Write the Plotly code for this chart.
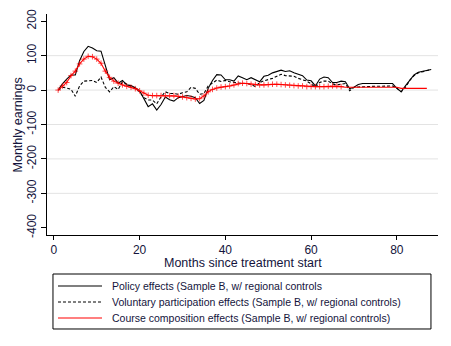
import plotly.graph_objects as go

# ------------------------
# Data
# ------------------------

months = list(range(1, 89))

policy = [
    0, 18, 32, 44, 44, 85, 112, 127, 122, 114,
    113, 72, 30, 36, 20, 28, 15, 13, 7, -2,
    -25, -48, -40, -58, -42, -20, -28, -32, -22, -19,
    -16, -18, -22, -39, -30, 5, 28, 45, 44, 30,
    30, 26, 41, 36, 30, 36, 30, 24, 40, 43,
    50, 55, 58, 54, 56, 50, 47, 42, 29, 27,
    12, 32, 38, 36, 22, 22, 26, 24, 4, 8,
    16, 19, 19, 19, 19, 19, 19, 19, 19, 5,
    -5, 12, 28, 44, 52, 55, 57, 60,
]

voluntary = [
    0, 8, 6, 2, -18, 12, 26, 28, 28, 22,
    38, 8, -5, 10, 2, 24, 18, 12, 4, -5,
    -22, -29, -29, -40, -20, -5, -10, -10, -12, -8,
    -5, 8, 5, -12, -10, 12, 20, 29, 25, 28,
    24, 22, 19, 19, 19, 16, 10, 22, 27, 30,
    34, 40, 46, 42, 41, 40, 34, 29, 26, 18,
    8, 22, 26, 26, 18, 15, 18, 19, -2, 8,
    9, 10, 10, 10, 11, 11, 12, 12, 12, 6,
    -5, 8, 28, 42, 50, 53, 56, 60,
]

composition = [
    0, 12, 22, 42, 55, 76, 90, 98, 97, 90,
    78, 55, 37, 26, 20, 15, 11, 8, 4, -2,
    -9, -15, -16, -16, -16, -16, -16, -16, -18, -20,
    -22, -24, -26, -25, -17, -5, 2, 6, 9, 10,
    12, 15, 19, 20, 19, 17, 16, 15, 15, 16,
    17, 17, 16, 15, 14, 13, 12, 12, 10, 10,
    10, 10, 10, 11, 12, 12, 10, 8, 8, 8,
    10, 10, 10, 10, 10, 10, 10, 10, 10, 8,
    5, 5, 5, 5, 5, 5, 5,
]

y_ticks = [-400, -300, -200, -100, 0, 100, 200]
x_ticks = [0, 20, 40, 60, 80]

names = [
    "Policy effects (Sample B, w/ regional controls",
    "Voluntary participation effects (Sample B, w/ regional controls)",
    "Course composition effects (Sample B, w/ regional controls)",
]

# ------------------------
# Figure
# ------------------------

font = "Liberation Sans, Arial, sans-serif"
text_col = "#14143c"
red = "#ff0000"

styles = [
    dict(color="black", width=1.1),
    dict(color="black", width=1.1, dash="3px,2px"),
    dict(color=red, width=1.1),
]

fig = go.Figure()

fig.add_trace(go.Scatter(x=months, y=policy, mode="lines", line=styles[0]))
fig.add_trace(go.Scatter(x=months, y=voluntary, mode="lines", line=styles[1]))

n = len(composition)
marker_sizes = [4 if m <= 67 else 0 for m in months[:n]]
fig.add_trace(go.Scatter(
    x=months[:n], y=composition, mode="lines+markers", line=styles[2],
    marker=dict(symbol="cross-thin", size=marker_sizes,
                line=dict(color=red, width=1)),
))

# horizontal grid (Stata style: not at the outer labels)
for v in y_ticks[1:-1]:
    fig.add_shape(type="line", xref="paper", yref="y", x0=0, x1=1, y0=v, y1=v,
                  line=dict(color="#e3e3e3", width=1), layer="below")

# axis titles
fig.add_annotation(xref="paper", yref="paper", x=0.5, y=-0.1267,
                   xanchor="center", yanchor="middle", showarrow=False,
                   text="Months since treatment start",
                   font=dict(size=12.5, color=text_col))
fig.add_annotation(xref="paper", yref="paper", x=-0.0742, y=0.5,
                   xanchor="center", yanchor="middle", showarrow=False,
                   textangle=-90, text="Monthly earnings",
                   font=dict(size=12.5, color=text_col))

# ------------------------
# Legend (drawn by hand, Stata style)
# ------------------------

fig.add_shape(type="rect", xref="paper", yref="paper",
              x0=0.0153, x1=0.982, y0=-0.4253, y1=-0.1765,
              line=dict(color="black", width=1))

row_y = [-0.2308, -0.3032, -0.3756]
for name, style, ry in zip(names, styles, row_y):
    fig.add_shape(type="line", xref="paper", yref="paper",
                  x0=0.0281, x1=0.1407, y0=ry, y1=ry, line=style)
    fig.add_annotation(xref="paper", yref="paper", x=0.1611, y=ry,
                       xanchor="left", yanchor="middle", showarrow=False,
                       text=name, font=dict(size=10.5, color=text_col))

# faint outer edge
fig.add_shape(type="line", xref="paper", yref="paper",
              x0=1.028, x1=1.028, y0=-0.502, y1=1.027,
              line=dict(color="#eeeeee", width=1))

# the page body adds an 8px offset, so the figure is 8px smaller
fig.update_layout(
    width=443,
    height=338,
    margin=dict(l=39, r=13, t=6, b=111),
    paper_bgcolor="white",
    plot_bgcolor="white",
    font=dict(family=font, size=12, color=text_col),
    showlegend=False,
    xaxis=dict(
        range=[-1.6, 89.6],
        tickvals=x_ticks,
        automargin=False,
        showgrid=False, zeroline=False,
        showline=True, linecolor="black", linewidth=1,
        ticks="outside", ticklen=4, tickcolor="black",
        tickfont=dict(size=12, color=text_col),
    ),
    yaxis=dict(
        range=[-421, 221],
        tickvals=y_ticks,
        ticktext=[str(v) for v in y_ticks],
        tickangle=-90,
        automargin=False,
        showgrid=False, zeroline=False,
        showline=True, linecolor="black", linewidth=1,
        ticks="outside", ticklen=5, tickcolor="black",
        tickfont=dict(size=12, color=text_col),
    ),
)

fig.write_html("out.html")
